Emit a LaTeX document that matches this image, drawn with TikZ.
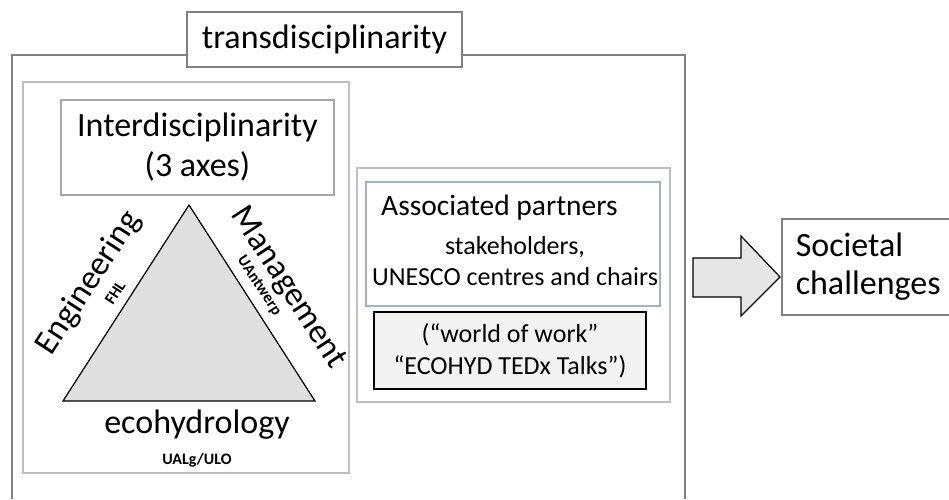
\documentclass[tikz,border=0pt]{standalone}
\usepackage{fontspec}
\setmainfont{Carlito}
\definecolor{frame}{HTML}{808080}
\definecolor{soft}{HTML}{BFBFBF}
\definecolor{midframe}{HTML}{A6A6A6}
\definecolor{blueframe}{HTML}{A5B2C6}
\definecolor{trifill}{HTML}{DFDFDF}
\definecolor{boxfill}{HTML}{F2F2F2}
\definecolor{arrowfill}{HTML}{E6E6E6}
\begin{document}
\begin{tikzpicture}[x=1pt,y=-1pt,
  big/.style={font=\fontsize{34}{40}\selectfont},
  partner/.style={font=\fontsize{29.5}{34}\selectfont},
  mid/.style={font=\fontsize{26}{32}\selectfont},
  small/.style={font=\fontsize{16}{18}\selectfont\bfseries},
  txt/.style={inner sep=0pt},
  panel/.style={draw=soft, line width=2pt},
  labelbox/.style={draw=frame, line width=1.5pt, fill=white, inner sep=0pt}]
\useasboundingbox (0,0) rectangle (949,499);

% outer transdisciplinarity frame (open at the bottom)
\coordinate (ol) at (12,499);
\coordinate (otl) at (12,55);
\coordinate (otr) at (685,55);
\coordinate (or) at (685,499);
\draw[frame, line width=2pt] (ol) -- (otl) -- (otr) -- (or);
\node[labelbox, big, minimum width=275, minimum height=55] (trans) at (324.5,39.5) {transdisciplinarity};

% left panel: interdisciplinarity triangle
\node[panel, minimum width=326, minimum height=391] (axes) at (186,277.5) {};
\node[draw=midframe, line width=1.5pt, minimum width=273, minimum height=95, big, align=center, inner sep=0pt]
  (inter) at (197.5,147.5) {Interdisciplinarity\\(3 axes)};

\coordinate (apex) at (189,205);
\coordinate (bl) at (63,401);
\coordinate (br) at (315,401);
\draw[fill=trifill, line width=1.2pt] (apex) -- (bl) -- (br) -- cycle;

\node[txt, big, rotate=57] (eng) at (89,283) {Engineering};
\node[txt, small, rotate=57] (fhl) at (115,293) {FHL};
\node[txt, big, rotate=-57] (man) at (288,288) {Management};
\node[txt, small, rotate=-57] (uant) at (259,286) {UAntwerp};
\node[txt, big] (eco) at (197,425) {ecohydrology};
\node[txt, small] (ualg) at (197,460) {UALg/ULO};

% middle panel: associated partners
\node[panel, minimum width=313, minimum height=234] (partners) at (513.5,285) {};
\node[draw=blueframe, line width=1.5pt, minimum width=294, minimum height=124] (assoc) at (513,244) {};
\node[txt, partner, anchor=west] (assoctitle) at (381,208) {Associated partners};
\node[txt, mid] (stake) at (515,247) {stakeholders,};
\node[txt, mid] (unesco) at (515,277) {UNESCO centres and chairs};
\node[draw=black, line width=1.5pt, fill=boxfill, minimum width=272, minimum height=77, mid, align=center, inner sep=0pt]
  (work) at (510,350.5) {(“world of work”\\“ECOHYD TEDx Talks”)};

% outcome box and block arrow
\node[draw=frame, line width=1.5pt, anchor=west, minimum height=96, text width=150, inner xsep=14pt, inner ysep=0pt,
  big, align=left, font=\fontsize{34}{38}\selectfont] (soc) at (781,267) {Societal\\challenges};
\draw[fill=arrowfill, line width=1.2pt]
  (693,258) -- (741,258) -- (741,236) -- (780,277) -- (741,316) -- (741,297) -- (693,297) -- cycle;
\end{tikzpicture}
\end{document}
